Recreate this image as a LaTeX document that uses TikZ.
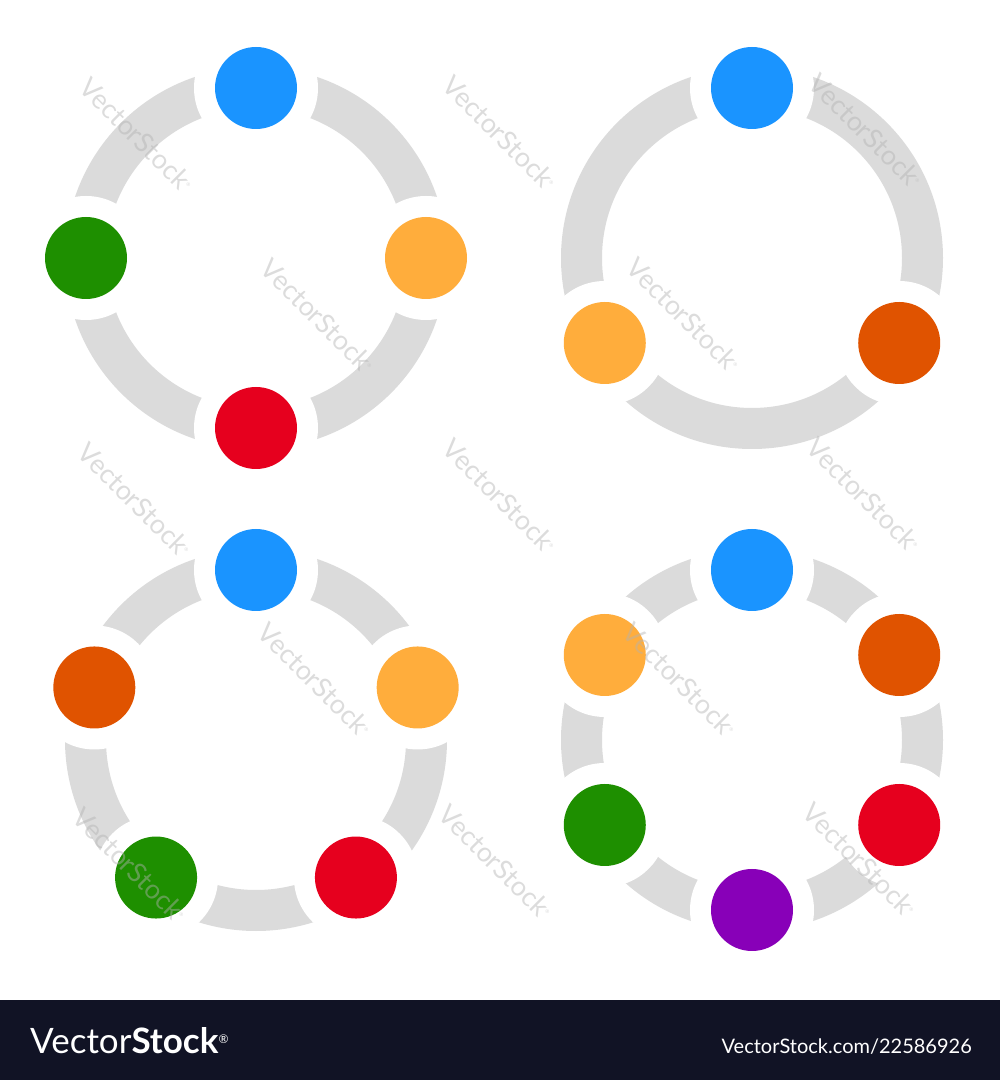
\documentclass[tikz,border=0pt]{standalone}
\usepackage{fontspec}
\newfontfamily\latofont{Lato}
\definecolor{dotblue}{HTML}{1A94FF}
\definecolor{dotgreen}{HTML}{1E8F00}
\definecolor{dotlight}{HTML}{FFAD3C}
\definecolor{dotred}{HTML}{E6001E}
\definecolor{dotdark}{HTML}{E05300}
\definecolor{dotpurple}{HTML}{8800B8}
\definecolor{ringgray}{HTML}{DBDBDB}
\definecolor{footer}{HTML}{111325}
\tikzset{
  ring/.style={draw=ringgray, line width=41pt},
  gap/.style={circle, fill=white, minimum size=124pt, inner sep=0pt},
  dot/.style={circle, fill=#1, minimum size=82pt, inner sep=0pt},
  wmark/.style={rotate=-45, text=gray!60, opacity=0.45, inner sep=0pt,
    font=\latofont\fontsize{27}{27}\selectfont},
}
\begin{document}
\begin{tikzpicture}[x=1pt, y=1pt]
\useasboundingbox (0,0) rectangle (1000,1080);
\fill[white] (0,80) rectangle (1000,1080);

% four dots
\begin{scope}[shift={(256,822)}]
\draw[ring] (0,0) circle (170.5);
\foreach \a/\col [count=\i] in {90/dotblue, 0/dotlight, -90/dotred, 180/dotgreen} {
  \node[gap] at (\a:170) {};
  \node[dot=\col] (a\i) at (\a:170) {};
}
\end{scope}

% three dots
\begin{scope}[shift={(752,822)}]
\draw[ring] (0,0) circle (170.5);
\foreach \a/\col [count=\i] in {90/dotblue, 330/dotdark, 210/dotlight} {
  \node[gap] at (\a:170) {};
  \node[dot=\col] (b\i) at (\a:170) {};
}
\end{scope}

% five dots
\begin{scope}[shift={(256,340)}]
\draw[ring] (0,0) circle (170.5);
\foreach \a/\col [count=\i] in {90/dotblue, 18/dotlight, -54/dotred, -126/dotgreen, 162/dotdark} {
  \node[gap] at (\a:170) {};
  \node[dot=\col] (c\i) at (\a:170) {};
}
\end{scope}

% six dots
\begin{scope}[shift={(752,340)}]
\draw[ring] (0,0) circle (170.5);
\foreach \a/\col [count=\i] in {90/dotblue, 30/dotdark, -30/dotred, -90/dotpurple, 210/dotgreen, 150/dotlight} {
  \node[gap] at (\a:170) {};
  \node[dot=\col] (d\i) at (\a:170) {};
}
\end{scope}

% watermarks
\foreach \x/\y [count=\i] in {137/945, 500/947, 866/949, 318/764, 684/765,
    135/580, 500/584, 864/585, 315/400, 680/400, 130/215, 496/218, 860/220} {
  \node[wmark] (w\i) at (\x,\y) {VectorStock\textsuperscript{\tiny®}};
}

% footer
\fill[footer] (0,0) rectangle (1000,80);
\node[anchor=base west, inner sep=0pt, text=white,
  font=\latofont\fontsize{35}{35}\selectfont] (logo) at (30,27)
  {Vector\textbf{Stock}\textsuperscript{\fontsize{12}{12}\selectfont®}};
\node[anchor=base east, inner sep=0pt, text=white,
  font=\latofont\fontsize{20}{20}\selectfont] (url) at (972,27)
  {VectorStock.com/22586926};
\end{tikzpicture}
\end{document}
